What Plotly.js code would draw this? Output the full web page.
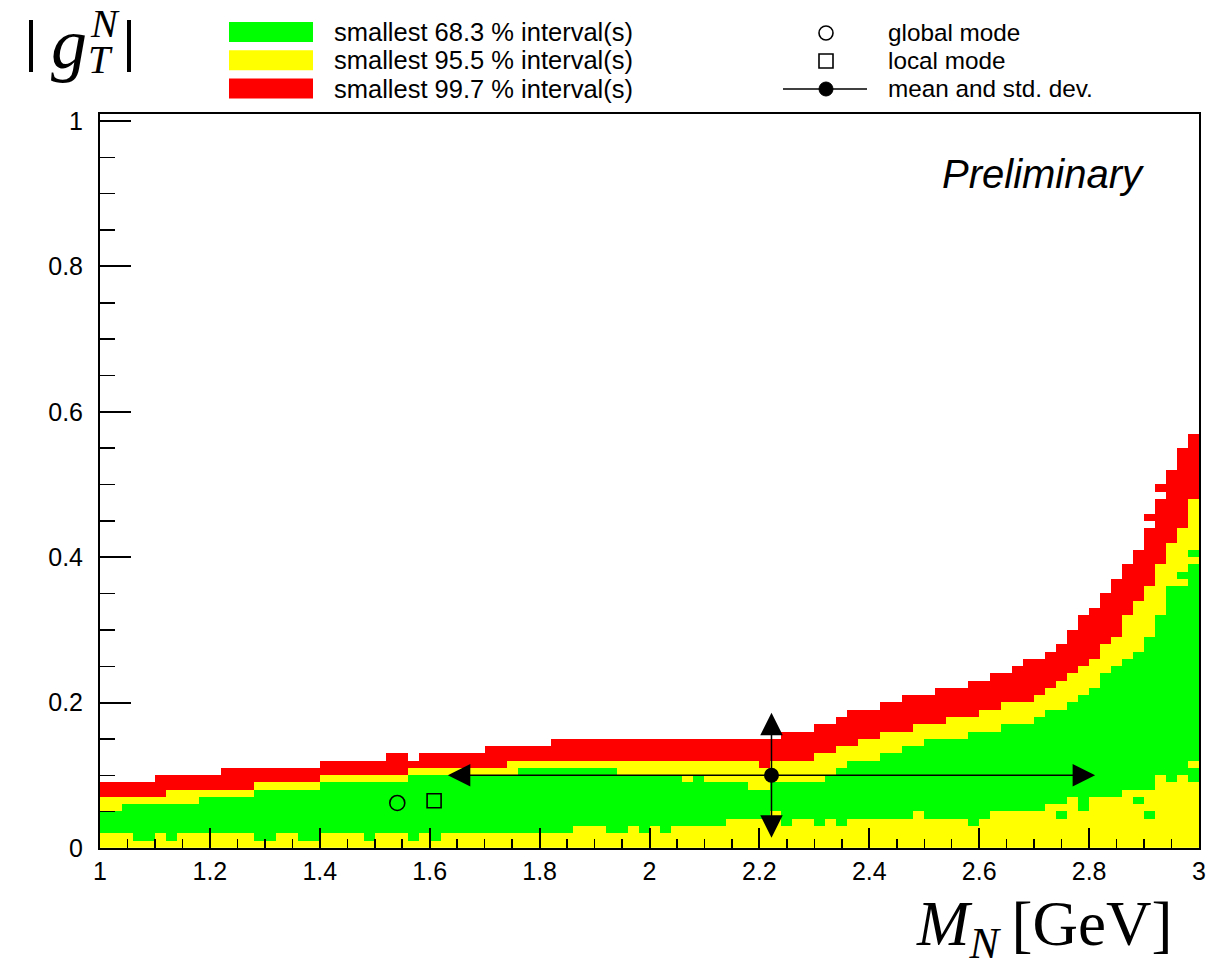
<!DOCTYPE html>
<html>
<head>
<meta charset="utf-8">
<script src="https://cdn.plot.ly/plotly-3.0.1.min.js"></script>
<style>html,body{margin:0;padding:0;background:#fff;}#plot{width:1211px;height:970px;}</style>
</head>
<body>
<div id="plot"></div>
<script>
// ---- data (units of 0.01 in |g_T^N|, one entry per M_N bin of 0.02 GeV from 1 to 3) ----
var redTop      = [9,9,9,9,9,10,10,10,10,10,10,11,11,11,11,11,11,11,11,11,12,12,12,12,12,12,13,13,12,13,13,13,13,13,13,14,14,14,14,14,14,15,15,15,15,15,15,15,15,15,15,15,15,15,15,15,15,15,15,15,15,15,16,16,16,17,17,18,19,19,19,20,20,21,21,21,22,22,22,23,23,24,24,25,26,26,27,28,30,32,33,35,37,39,41,44,48,52,55,57];
var yellowTop   = [7,7,7,7,7,7,8,8,8,8,8,8,8,8,9,9,9,9,9,9,10,10,10,10,10,10,10,10,11,11,11,11,11,11,11,11,11,12,12,12,12,12,12,12,12,12,12,12,12,12,12,12,12,12,12,12,12,12,12,12,11,12,12,12,12,13,13,14,14,15,15,16,16,16,17,17,17,18,18,18,19,19,20,20,20,21,22,23,24,25,26,28,29,32,34,36,39,42,44,48];
var greenTop    = [5,5,6,6,6,6,6,6,6,7,7,7,7,7,8,8,8,8,8,8,9,9,9,9,9,9,9,9,10,10,10,10,10,10,10,10,10,10,11,11,11,11,11,11,11,11,11,10,10,10,10,10,10,9,10,9,9,9,9,8,8,9,9,9,9,9,10,11,12,12,12,13,13,14,14,15,15,15,15,16,16,16,17,17,17,18,19,19,20,21,22,24,25,26,27,29,32,36,36,39];
var greenBottom = [2,2,2,1,1,2,1,2,2,2,2,2,2,2,1,1,2,2,1,1,2,2,2,2,1,2,2,2,1,2,1,2,2,2,2,2,2,2,2,2,2,2,2,3,3,3,2,2,3,2,3,2,3,3,3,3,3,4,4,4,4,5,3,4,4,3,4,3,4,4,4,4,4,4,5,4,4,4,4,3,4,5,5,5,5,5,6,6,7,5,7,7,7,8,8,8,10,9,10,9];
// isolated cells: bin index, row index (units of 0.01), level (1 = 68.3 %, 2 = 95.5 %, 3 = 99.7 %)
var islandBin   = [87, 94, 95, 95, 96, 98, 99, 99];
var islandRow   = [4, 6, 4, 45, 49, 37, 40, 11];
var islandLevel = [1, 1, 1, 3, 3, 1, 1, 2];
var binStartM = 1.0, binWidthM = 0.02, rowHeightG = 0.01, nRows = 60;
// markers
var globalMode = {m: 1.541, g: 0.062};
var localMode  = {m: 1.608, g: 0.065};
var meanVal    = {m: 2.222, g: 0.100};
var stdDev     = {m: 0.589, g: 0.086};
var xTicks = [1, 1.2, 1.4, 1.6, 1.8, 2, 2.2, 2.4, 2.6, 2.8, 3];
var legendTexts = ['smallest 68.3 % interval(s)', 'smallest 95.5 % interval(s)', 'smallest 99.7 % interval(s)'];
var legendColors = ['#00ff00', '#ffff00', '#ff0000'];
var legendTexts2 = ['global mode', 'local mode', 'mean and std. dev.'];

// ---- build the level map ----
var z = [];
for (var j = 0; j < nRows; j++) {
  var row = [];
  for (var i = 0; i < redTop.length; i++) {
    var v = null;
    if (j < greenBottom[i]) v = 2;
    else if (j < greenTop[i]) v = 1;
    else if (j < yellowTop[i]) v = 2;
    else if (j < redTop[i]) v = 3;
    row.push(v);
  }
  z.push(row);
}
for (var k = 0; k < islandBin.length; k++) z[islandRow[k]][islandBin[k]] = islandLevel[k];

var L = 100, R = 1199, T = 114, B = 848;
function px(x) { return (x - L) / (R - L); }
function py(y) { return (B - y) / (B - T); }

var traces = [
  {type: 'heatmap', z: z, x0: binStartM + binWidthM / 2, dx: binWidthM, y0: rowHeightG / 2, dy: rowHeightG,
   zmin: 0.5, zmax: 3.5, zsmooth: false, showscale: false, hoverinfo: 'skip',
   colorscale: [[0, '#00ff00'], [1/3, '#00ff00'], [1/3, '#ffff00'], [2/3, '#ffff00'], [2/3, '#ff0000'], [1, '#ff0000']]},
  {type: 'scatter', mode: 'markers', x: [globalMode.m], y: [globalMode.g], hoverinfo: 'skip',
   marker: {symbol: 'circle-open', size: 15, color: 'black', line: {width: 1.6, color: 'black'}}},
  {type: 'scatter', mode: 'markers', x: [localMode.m], y: [localMode.g], hoverinfo: 'skip',
   marker: {symbol: 'square-open', size: 14, color: 'black', line: {width: 1.6, color: 'black'}}},
  {type: 'scatter', mode: 'markers', x: [meanVal.m], y: [meanVal.g], hoverinfo: 'skip',
   marker: {symbol: 'circle', size: 15, color: 'black'}}
];

var font = 'Liberation Sans, Arial, Helvetica, sans-serif';
var serif = 'Liberation Serif, Times New Roman, serif';
var annotations = [];
var shapes = [];
// std-dev arrows
[[meanVal.m - stdDev.m, meanVal.g], [meanVal.m + stdDev.m, meanVal.g], [meanVal.m, meanVal.g + stdDev.g], [meanVal.m, meanVal.g - stdDev.g]].forEach(function (p) {
  annotations.push({x: p[0], y: p[1], ax: meanVal.m, ay: meanVal.g, xref: 'x', yref: 'y', axref: 'x', ayref: 'y',
    text: '', showarrow: true, arrowhead: 2, arrowsize: 3, arrowwidth: 1.5, arrowcolor: 'black', standoff: 0, startstandoff: 0});
});
// legend left column
for (var n = 0; n < 3; n++) {
  var yc = 32 + 28.3 * n;
  shapes.push({type: 'rect', xref: 'paper', yref: 'paper', x0: px(229), x1: px(313), y0: py(yc - 10), y1: py(yc + 10),
    fillcolor: legendColors[n], line: {width: 0}});
  annotations.push({xref: 'paper', yref: 'paper', x: px(332), y: py(yc), xanchor: 'left', yanchor: 'middle',
    text: legendTexts[n], showarrow: false, font: {family: font, size: 25.5, color: 'black'}});
  annotations.push({xref: 'paper', yref: 'paper', x: px(886), y: py(yc), xanchor: 'left', yanchor: 'middle',
    text: legendTexts2[n], showarrow: false, font: {family: font, size: 24.3, color: 'black'}});
}
// legend right column symbols
shapes.push({type: 'circle', xref: 'paper', yref: 'paper', xsizemode: 'pixel', ysizemode: 'pixel',
  xanchor: px(826), yanchor: py(33), x0: -7, x1: 7, y0: -7, y1: 7, line: {color: 'black', width: 1.6}});
shapes.push({type: 'rect', xref: 'paper', yref: 'paper', xsizemode: 'pixel', ysizemode: 'pixel',
  xanchor: px(826), yanchor: py(61), x0: -7, x1: 7, y0: -7, y1: 7, line: {color: 'black', width: 1.6}});
shapes.push({type: 'line', xref: 'paper', yref: 'paper', x0: px(783), x1: px(867), y0: py(89), y1: py(89), line: {color: 'black', width: 1.6}});
shapes.push({type: 'circle', xref: 'paper', yref: 'paper', xsizemode: 'pixel', ysizemode: 'pixel',
  xanchor: px(826), yanchor: py(89), x0: -7, x1: 7, y0: -7, y1: 7, fillcolor: 'black', line: {color: 'black', width: 1}});
// y title |g_T^N|
shapes.push({type: 'line', xref: 'paper', yref: 'paper', x0: px(31), x1: px(31), y0: py(20), y1: py(72), line: {color: 'black', width: 4}});
shapes.push({type: 'line', xref: 'paper', yref: 'paper', x0: px(129), x1: px(129), y0: py(20), y1: py(72), line: {color: 'black', width: 4}});
annotations.push({xref: 'paper', yref: 'paper', x: px(69), y: py(44), xanchor: 'center', yanchor: 'middle', text: '<i>g</i>',
  showarrow: false, font: {family: serif, size: 72, color: 'black'}});
annotations.push({xref: 'paper', yref: 'paper', x: px(105), y: py(23), xanchor: 'center', yanchor: 'middle', text: '<i>N</i>',
  showarrow: false, font: {family: serif, size: 40, color: 'black'}});
annotations.push({xref: 'paper', yref: 'paper', x: px(100), y: py(59), xanchor: 'center', yanchor: 'middle', text: '<i>T</i>',
  showarrow: false, font: {family: serif, size: 40, color: 'black'}});
// x title
annotations.push({xref: 'paper', yref: 'paper', x: px(1174), y: py(928), xanchor: 'right', yanchor: 'middle',
  text: '<i>M</i><sub><i>N</i></sub>&#8201;[GeV]', showarrow: false, font: {family: serif, size: 63, color: 'black'}});
// Preliminary
annotations.push({xref: 'paper', yref: 'paper', x: px(1147), y: py(174), xanchor: 'right', yanchor: 'middle',
  text: '<i>Preliminary</i>', showarrow: false, font: {family: font, size: 40, color: 'black'}});

var axisCommon = {showgrid: false, zeroline: false, showline: true, linewidth: 2, linecolor: 'black', mirror: true,
  ticks: 'inside', tickcolor: 'black', tickwidth: 2, tickfont: {family: font, size: 25, color: 'black'}};
var layout = {
  width: 1211, height: 970, margin: {l: L, r: 1211 - R, t: T, b: 970 - B},
  paper_bgcolor: 'white', plot_bgcolor: 'white', showlegend: false,
  xaxis: Object.assign({}, axisCommon, {range: [1, 3], tickvals: xTicks, ticktext: xTicks.map(String), ticklen: 20,
    ticklabelstandoff: 0,
    minor: {dtick: 0.05, tick0: 1, ticklen: 9, tickwidth: 1.5, tickcolor: 'black', ticks: 'inside', showgrid: false}}),
  yaxis: Object.assign({}, axisCommon, {range: [0, (B - T) / 727], dtick: 0.2, tick0: 0, ticklen: 31,
    ticklabelstandoff: 10,
    minor: {dtick: 0.05, tick0: 0, ticklen: 15, tickwidth: 1.5, tickcolor: 'black', ticks: 'inside', showgrid: false}}),
  annotations: annotations, shapes: shapes
};
Plotly.newPlot('plot', traces, layout, {staticPlot: true, displayModeBar: false});
</script>
</body>
</html>
